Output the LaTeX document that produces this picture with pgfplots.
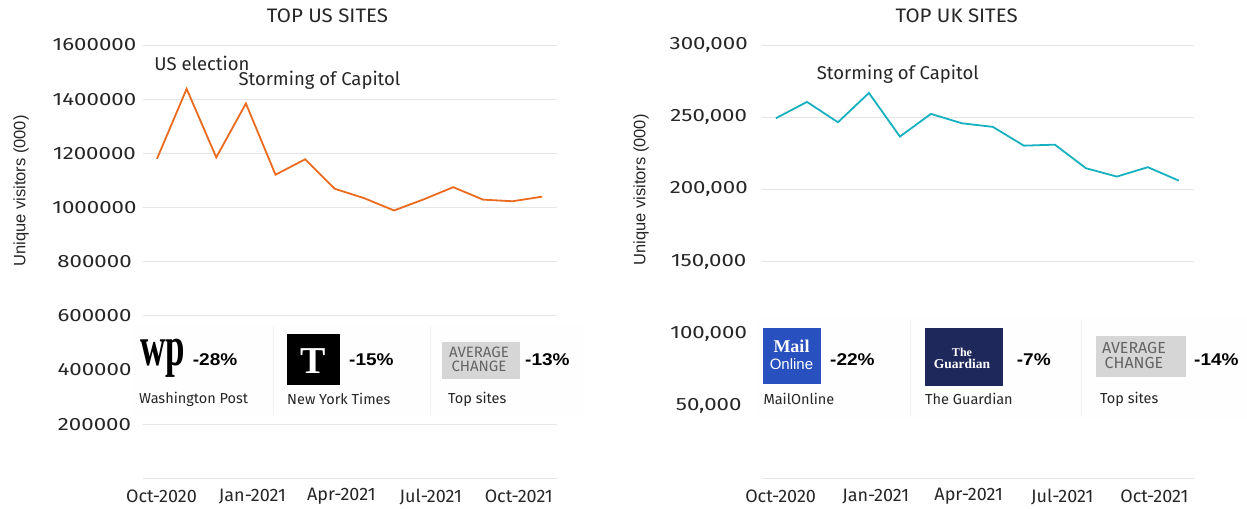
\documentclass[border=0pt]{standalone}
\usepackage{fontspec}
\usepackage{pgfplots}
\pgfplotsset{compat=1.18}
\setmainfont{Fira Sans}
\newfontfamily\tickf[FakeStretch=1.25]{Fira Sans}
\newfontfamily\titlef[FakeStretch=1.05]{Fira Sans}
\newfontfamily\arialf{Liberation Sans}
\newfontfamily\pctf[FakeStretch=1.12]{Liberation Sans}
\newfontfamily\seriff{Liberation Serif}
\newcommand\fs[1]{\fontsize{#1bp}{#1bp}\selectfont}
\definecolor{usorange}{RGB}{235,107,30}
\definecolor{ukteal}{RGB}{22,176,190}
\definecolor{txt}{RGB}{38,38,38}
\definecolor{gridc}{RGB}{230,230,230}
\definecolor{panelbg}{RGB}{254,254,254}
\definecolor{divc}{RGB}{242,242,242}
\definecolor{avgbox}{RGB}{214,214,214}
\definecolor{avgtxt}{RGB}{100,100,100}
\definecolor{mailblue}{RGB}{40,80,190}
\definecolor{guardnavy}{RGB}{30,40,90}
\pgfplotsset{
  common/.style={
    anchor=south west, scale only axis, clip=false,
    axis line style={draw=none}, major tick length=0pt,
    ymajorgrids, grid style={line width=0.9bp, color=gridc},
    scaled y ticks=false,
    xtick={0.15,3.22,6.22,9.24,12.21},
    xticklabels={Oct-2020,Jan-2021,Apr-2021,Jul-2021,Oct-2021},
    xticklabel style={font=\fs{18}, text=txt, anchor=center, yshift=-18.4bp},
    yticklabel style={font=\tickf\fs{17.8}, text=txt, anchor=center},
  }
}
\begin{document}
\begin{tikzpicture}
\path[use as bounding box] (0,0) rectangle (1247bp,509bp);
\begin{axis}[common,
  at={(142.7bp,30.7bp)}, width=414bp, height=433.3bp,
  xmin=-0.483, xmax=13.49, ymin=0, ymax=1600000,
  ytick={0,200000,400000,600000,800000,1000000,1200000,1400000,1600000},
  yticklabels={,200000,400000,600000,800000,1000000,1200000,1400000,1600000},
  yticklabel style={xshift=-48.2bp},
]
\addplot[usorange, line width=1.8bp] coordinates {
(0,1180000)(1,1438000)(2,1185000)(3,1384000)(4,1121000)(5,1178000)(6,1069000)
(7,1034000)(8,989000)(9,1030000)(10,1075000)(11,1029000)(12,1023000)(13,1040000)};
\end{axis}
\begin{axis}[common,
  at={(761.7bp,30.7bp)}, width=432.3bp, height=433.3bp,
  xmin=-0.46, xmax=13.49, ymin=0, ymax=300000,
  ytick={0,50000,100000,150000,200000,250000,300000},
  yticklabels={,{50,000},{100,000},{150,000},{200,000},{250,000},{300,000}},
  yticklabel style={xshift=-53bp},
]
\addplot[ukteal, line width=1.8bp] coordinates {
(0,249300)(1,260600)(2,246500)(3,266800)(4,236600)(5,252300)(6,245800)
(7,243300)(8,230300)(9,231000)(10,214700)(11,208900)(12,215400)(13,206100)};
\end{axis}
\begin{scope}[shift={(0bp,509bp)}, x=1bp, y=-1bp]
% titles
\node[font=\titlef\fs{19.5}, text=txt] at (327.5,16) {TOP US SITES};
\node[font=\titlef\fs{19.5}, text=txt] at (956.7,16) {TOP UK SITES};
% y labels
\node[rotate=90, font=\arialf\fs{16.5}, text=txt] at (21,191) {Unique visitors (000)};
\node[rotate=90, font=\arialf\fs{16.5}, text=txt] at (641,190) {Unique visitors (000)};
% annotations
\node[anchor=west, inner sep=0, font=\fs{18.5}, text=txt] at (154.3,63) {US election};
\node[anchor=west, inner sep=0, font=\fs{18.5}, text=txt] at (238.3,80.7) {Storming of Capitol};
\node[anchor=west, inner sep=0, font=\fs{18.5}, text=txt] at (816.7,74) {Storming of Capitol};
% panels
\fill[panelbg] (134,324) rectangle (585,417);
\fill[panelbg] (756,318) rectangle (1247,418);
\draw[divc, line width=0.6bp] (273.5,326)--(273.5,415) (430.7,326)--(430.7,415);
\draw[divc, line width=0.6bp] (910,320)--(910,416) (1081.7,320)--(1081.7,416);
% US logos
\node[font=\seriff\bfseries\fs{35}, inner sep=0, yscale=1.6] at (162.5,358) {wp};
\node[anchor=west, inner sep=0, font=\pctf\bfseries\fs{17}] at (192.7,360) {-28\%};
\fill[black] (286.7,334) rectangle (340,385);
\node[text=white, font=\seriff\bfseries\fs{38}, inner sep=0] at (313.3,361) {T};
\node[anchor=west, inner sep=0, font=\pctf\bfseries\fs{17}] at (349,360) {-15\%};
\fill[avgbox] (442,342) rectangle (520.4,379);
\node[text=avgtxt, align=center, font=\fs{15}, inner sep=0] at (479,359.5) {AVERAGE\\[-0.5bp]CHANGE};
\node[anchor=west, inner sep=0, font=\pctf\bfseries\fs{17}] at (525,360) {-13\%};
\node[anchor=west, inner sep=0, font=\fs{14.5}, text=txt] at (139,399) {Washington Post};
\node[anchor=west, inner sep=0, font=\fs{14.5}, text=txt] at (287,399) {New York Times};
\node[anchor=west, inner sep=0, font=\fs{14.5}, text=txt] at (448,399) {Top sites};
% UK logos
\fill[mailblue] (763,328) rectangle (820.7,384);
\node[text=white, font=\seriff\bfseries\fs{18}, inner sep=0] at (791.5,346.7) {Mail};
\node[text=white, font=\arialf\fs{15}, inner sep=0] at (791.5,364) {Online};
\node[anchor=west, inner sep=0, font=\pctf\bfseries\fs{17}] at (830,360) {-22\%};
\fill[guardnavy] (925,328) rectangle (1003.3,386);
\node[text=white, font=\seriff\bfseries\fs{12}, inner sep=0] at (962,352) {The};
\node[text=white, font=\seriff\bfseries\fs{13.5}, inner sep=0] at (962,364) {Guardian};
\node[anchor=west, inner sep=0, font=\pctf\bfseries\fs{17}] at (1016.7,360) {-7\%};
\fill[avgbox] (1096,336) rectangle (1185.7,377.3);
\node[text=avgtxt, align=center, font=\fs{16}, inner sep=0] at (1134,355.5) {AVERAGE\\[-0.5bp]CHANGE};
\node[anchor=west, inner sep=0, font=\pctf\bfseries\fs{17}] at (1194,360) {-14\%};
\node[anchor=west, inner sep=0, font=\fs{14.5}, text=txt] at (763.3,399) {MailOnline};
\node[anchor=west, inner sep=0, font=\fs{14.5}, text=txt] at (925,399) {The Guardian};
\node[anchor=west, inner sep=0, font=\fs{14.5}, text=txt] at (1100,399) {Top sites};
\end{scope}
\end{tikzpicture}
\end{document}
